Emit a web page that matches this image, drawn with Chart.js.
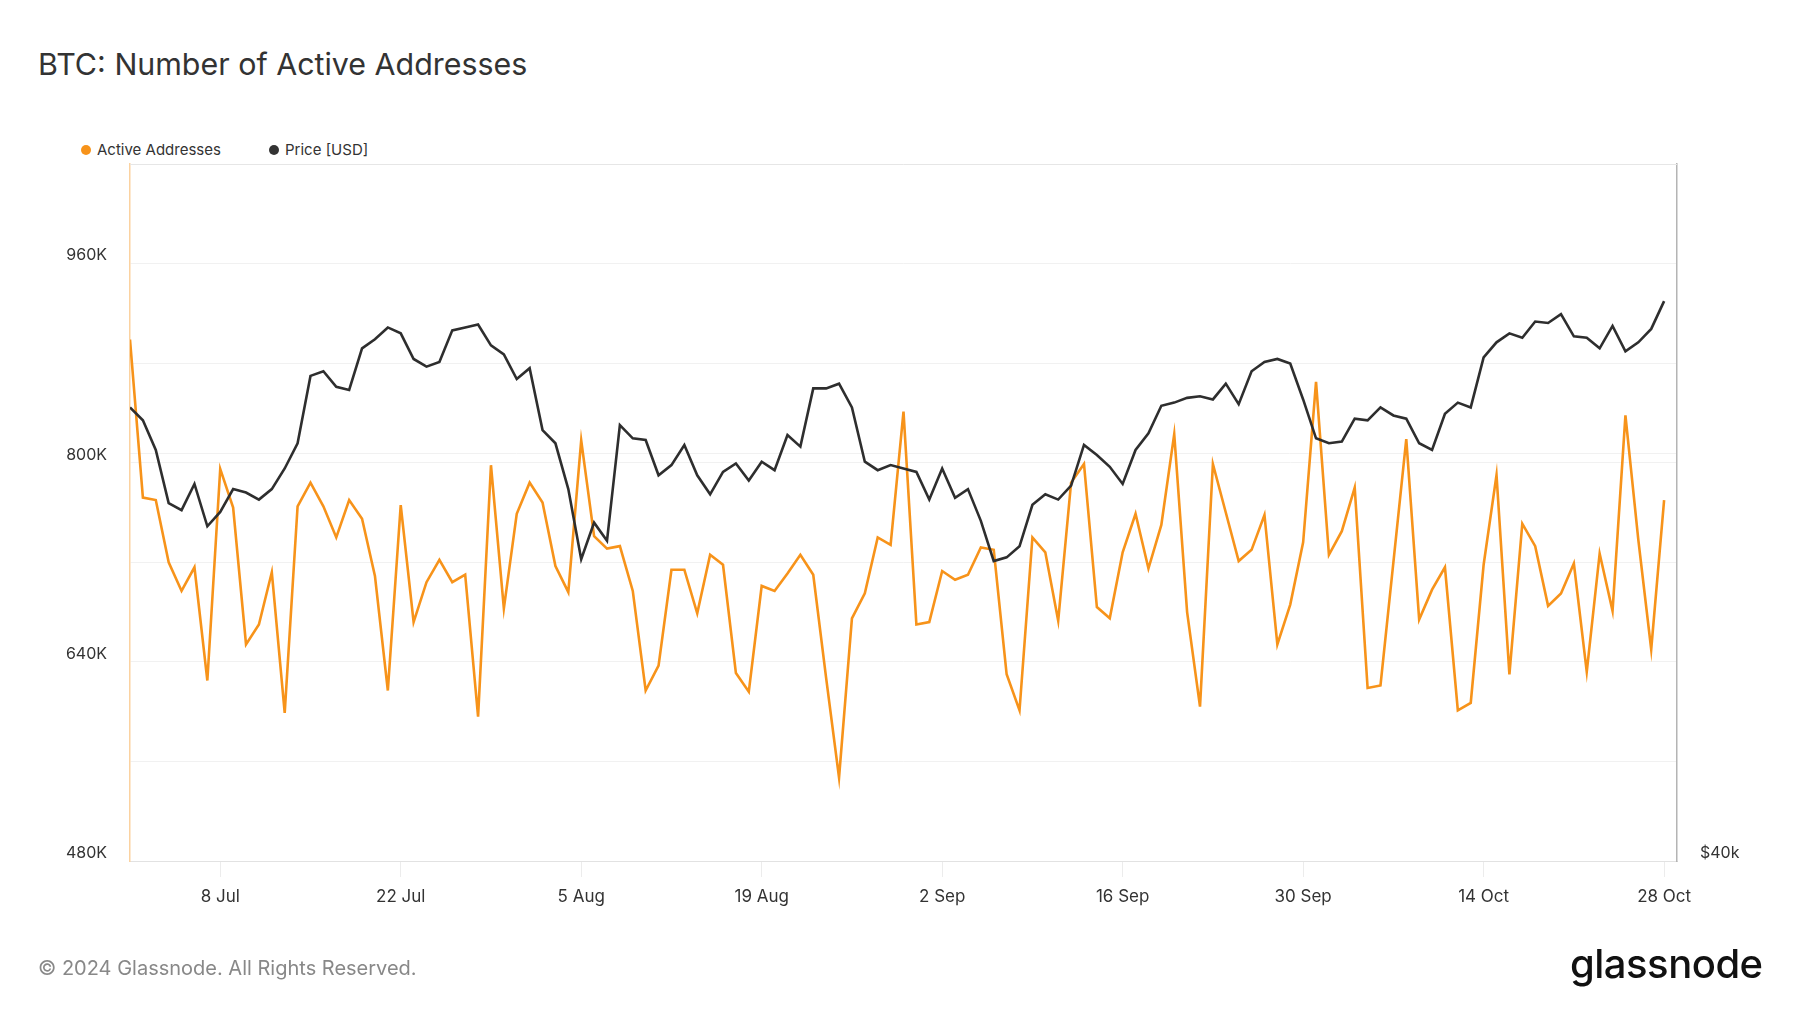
<!DOCTYPE html>
<html lang="en">
<head>
<meta charset="utf-8">
<title>BTC: Number of Active Addresses</title>
<script src="https://cdn.jsdelivr.net/npm/chart.js@4.4.1/dist/chart.umd.min.js"></script>
<style>
  html, body { margin: 0; padding: 0; background: #fff; }
  body { width: 1800px; height: 1013px; position: relative; overflow: hidden; font-family: Inter, "Noto Sans", sans-serif; color: #333; }
  #chartWrap { position: absolute; left: 0; top: 0; width: 1800px; height: 1013px; }
  .title { position: absolute; left: 38px; top: 48px; font-size: 30.4px; line-height: 32px; font-weight: 400; color: #333; white-space: nowrap; }
  .legend-item { position: absolute; top: 141px; font-size: 15px; line-height: 18px; color: #333; white-space: nowrap; }
  .legend-item .dot { position: absolute; left: -16px; top: 4px; width: 10px; height: 10px; border-radius: 50%; }
  .footer { position: absolute; left: 38px; top: 956px; font-size: 20px; line-height: 24px; color: #888; white-space: nowrap; }
  .logo { position: absolute; left: 1570px; top: 942px; font-size: 40px; line-height: 44px; font-weight: 500; color: #111; letter-spacing: -0.5px; }
</style>
</head>
<body>
<div class="title">BTC: Number of Active Addresses</div>
<div class="legend-item" style="left: 97px;"><span class="dot" style="background:#f7931a"></span>Active Addresses</div>
<div class="legend-item" style="left: 285px;"><span class="dot" style="background:#333"></span>Price [USD]</div>
<div id="chartWrap"><canvas id="chart"></canvas></div>
<div class="footer">© 2024 Glassnode. All Rights Reserved.</div>
<div class="logo">glassnode</div>

<script>
"use strict";

// daily points, 1 Jul 2024 (day 0) .. 28 Oct 2024 (day 119)
const activeAddresses = [
    899, 772, 770, 720, 697, 716, 625, 795, 764, 654,
    670, 712, 599, 765, 784, 765, 740, 770, 755, 709,
    617, 766, 672, 704, 722, 704, 710, 596, 798, 683,
    759, 784, 768, 717, 696, 818, 741, 731, 733, 697,
    617, 637, 714, 714, 679, 726, 718, 631, 616, 701,
    697, 711, 726, 710, 627, 547, 675, 695, 740, 734,
    841, 670, 672, 713, 706, 710, 732, 730, 630, 601,
    740, 728, 673, 784, 799, 684, 675, 728, 759, 715,
    750, 823, 680, 604, 799, 760, 721, 730, 758, 654,
    686, 736, 865, 726, 745, 780, 619, 621, 720, 819,
    674, 698, 716, 601, 607, 718, 790, 630, 751, 733,
    685, 695, 719, 632, 727, 681, 838, 738, 650, 770
]; // thousands

const priceUsd = [
    62.8, 62.0, 60.2, 57.1, 56.7, 58.2, 55.8, 56.6, 57.9, 57.7,
    57.3, 57.9, 59.1, 60.6, 64.8, 65.1, 64.1, 63.9, 66.6, 67.2,
    68.0, 67.6, 65.9, 65.4, 65.7, 67.8, 68.0, 68.2, 66.8, 66.2,
    64.6, 65.3, 61.4, 60.6, 57.9, 54.0, 56.0, 55.0, 61.7, 60.9,
    60.8, 58.7, 59.3, 60.5, 58.7, 57.6, 58.9, 59.4, 58.4, 59.5,
    59.0, 61.1, 60.4, 64.0, 64.0, 64.3, 62.8, 59.5, 59.0, 59.3,
    59.1, 58.9, 57.3, 59.1, 57.4, 57.9, 56.1, 53.9, 54.1, 54.7,
    57.0, 57.6, 57.3, 58.1, 60.5, 59.9, 59.2, 58.2, 60.2, 61.2,
    62.9, 63.1, 63.4, 63.5, 63.3, 64.3, 63.0, 65.1, 65.7, 65.9,
    65.6, 63.3, 60.9, 60.6, 60.7, 62.1, 62.0, 62.8, 62.3, 62.1,
    60.6, 60.2, 62.4, 63.1, 62.8, 66.0, 67.0, 67.6, 67.3, 68.4,
    68.3, 68.9, 67.4, 67.3, 66.6, 68.1, 66.4, 67.0, 67.9, 69.8
]; // thousands USD

const tickDays = [7, 21, 35, 49, 63, 77, 91, 105, 119];
const tickLabels = ["8 Jul", "22 Jul", "5 Aug", "19 Aug", "2 Sep", "16 Sep", "30 Sep", "14 Oct", "28 Oct"];

const priceTicks = [40000, 60000];

Chart.defaults.font.family = "Inter, 'Noto Sans', sans-serif";
Chart.defaults.color = "#333";

/* top frame line of the plot */
const topBorder = {
    id: "topBorder",
    beforeDatasetsDraw(chart) {
        const { ctx, chartArea } = chart;
        ctx.save();
        ctx.strokeStyle = "#e6e6e6";
        ctx.lineWidth = 1;
        ctx.beginPath();
        ctx.moveTo(chartArea.left, chartArea.top + 0.5);
        ctx.lineTo(chartArea.right, chartArea.top + 0.5);
        ctx.stroke();
        ctx.restore();
    }
};

const ctx = document.getElementById("chart").getContext("2d");

new Chart(ctx, {
    type: "line",
    data: {
        datasets: [{
            label: "Active Addresses",
            data: activeAddresses.map((v, i) => ({ x: i, y: v * 1000 })),
            borderColor: "#f7931a",
            borderWidth: 2.6,
            pointRadius: 0,
            tension: 0,
            yAxisID: "y",
            order: 1
        }, {
            label: "Price [USD]",
            data: priceUsd.map((v, i) => ({ x: i, y: v * 1000 })),
            borderColor: "#2e2e2e",
            borderWidth: 2.6,
            pointRadius: 0,
            tension: 0,
            yAxisID: "y1",
            order: 0
        }]
    },
    options: {
        responsive: true,
        maintainAspectRatio: false,
        animation: false,
        layout: { padding: { top: 164, left: 0, right: 0, bottom: 0 } },
        scales: {
            x: {
                type: "linear",
                min: 0,
                max: 120,
                afterBuildTicks: scale => { scale.ticks = tickDays.map(v => ({ value: v })); },
                afterFit: scale => { scale.height = 152; },
                grid: { drawOnChartArea: false, drawTicks: true, tickLength: 16, color: "#ececec" },
                border: { color: "#e2e2e2" },
                ticks: {
                    autoSkip: false,
                    maxRotation: 0,
                    padding: 10,
                    font: { size: 17 },
                    callback: value => tickLabels[tickDays.indexOf(value)] || ""
                }
            },
            y: {
                position: "left",
                min: 480000,
                max: 1040000,
                afterFit: scale => { scale.width = 130; },
                grid: { color: "#f1f1f1", drawTicks: false },
                border: { color: "#fbd2a0", width: 1.5 },
                ticks: {
                    stepSize: 80000,
                    padding: 23,
                    labelOffset: -8,
                    font: { size: 16 },
                    callback: value => ((value - 480000) % 160000 === 0 ? (value / 1000) + "K" : "")
                }
            },
            y1: {
                type: "logarithmic",
                position: "right",
                min: 40000,
                max: 80000,
                afterBuildTicks: scale => { scale.ticks = priceTicks.map(v => ({ value: v })); },
                afterFit: scale => { scale.width = 123; },
                grid: { color: "#f1f1f1", drawTicks: false },
                border: { color: "#b4b4b4", width: 1.5 },
                ticks: {
                    padding: 23,
                    labelOffset: -8,
                    font: { size: 16 },
                    callback: value => (value === 40000 ? "$40k" : "")
                }
            }
        },
        plugins: {
            legend: { display: false },
            tooltip: { enabled: false }
        }
    },
    plugins: [topBorder]
});
</script>
</body>
</html>
